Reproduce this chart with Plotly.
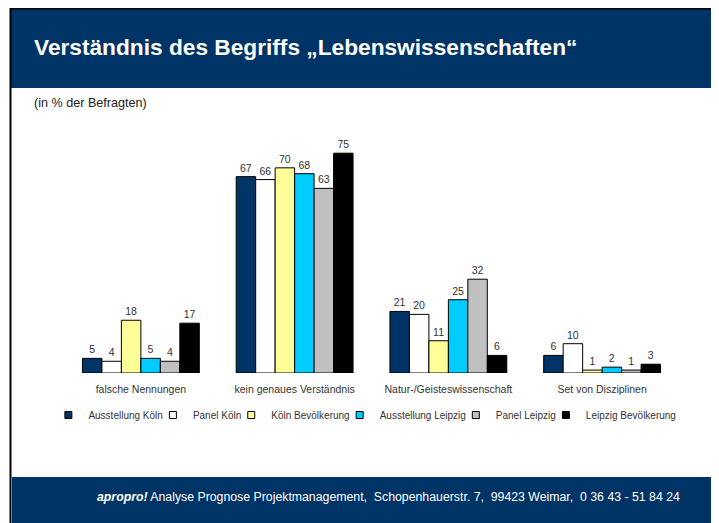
import plotly.graph_objects as go

# data
categories = ['falsche Nennungen', 'kein genaues Verständnis',
              'Natur-/Geisteswissenschaft', 'Set von Disziplinen']
series = ['Ausstellung Köln', 'Panel Köln', 'Köln Bevölkerung',
          'Ausstellung Leipzig', 'Panel Leipzig', 'Leipzig Bevölkerung']
ausstellung_koeln = [5, 67, 21, 6]
panel_koeln = [4, 66, 20, 10]
koeln_bevoelkerung = [18, 70, 11, 1]
ausstellung_leipzig = [5, 68, 25, 2]
panel_leipzig = [4, 63, 32, 1]
leipzig_bevoelkerung = [17, 75, 6, 3]
values = [ausstellung_koeln, panel_koeln, koeln_bevoelkerung,
          ausstellung_leipzig, panel_leipzig, leipzig_bevoelkerung]

# style
colors = ['#003366', '#FFFFFF', '#FFFF99', '#00CCFF', '#C0C0C0', '#000000']
navy = '#003366'
# the page body has an 8px margin, so the figure is 8px smaller than the window
W, H = 711, 515
L, R, T, B = 56, 40, 132, 150
PW, PH = W - L - R, H - T - B


# helpers: window pixel -> paper coords
def px_x(x):
    return (x - 8 - L) / PW


def px_y(y):
    return (H - B - (y - 8)) / PH


fig = go.Figure()

for name, vals, col in zip(series, values, colors):
    fig.add_trace(go.Bar(
        x=categories, y=vals, name=name, legendgroup=name, showlegend=False,
        marker=dict(color=col, line=dict(color='black', width=1)),
        text=vals, textposition='outside', cliponaxis=False,
        textfont=dict(size=10.5, color='#333333'),
        hoverinfo='x+y+name'))
    # legend entry with a small square symbol
    fig.add_trace(go.Scatter(
        x=[None], y=[None], mode='markers', name=name, legendgroup=name,
        marker=dict(symbol='square', size=7, color=col,
                    line=dict(color='black', width=1))))

shapes = [
    # header band
    dict(type='rect', xref='paper', yref='paper', layer='below',
         x0=px_x(11), x1=px_x(730), y0=px_y(88), y1=px_y(9),
         fillcolor=navy, line_width=0),
    # footer band
    dict(type='rect', xref='paper', yref='paper', layer='below',
         x0=px_x(12), x1=px_x(730), y0=px_y(540), y1=px_y(477),
         fillcolor=navy, line_width=0),
    # black frame (left + top)
    dict(type='line', xref='paper', yref='paper',
         x0=px_x(10.5), x1=px_x(10.5), y0=px_y(540), y1=px_y(8),
         line=dict(color='black', width=2)),
    dict(type='line', xref='paper', yref='paper',
         x0=px_x(10), x1=px_x(730), y0=px_y(8.8), y1=px_y(8.8),
         line=dict(color='black', width=1.5)),
]

annotations = [
    dict(text='<b>Verständnis des Begriffs „Lebenswissenschaften“</b>',
         xref='paper', yref='paper', x=px_x(32), y=px_y(47),
         xanchor='left', yanchor='middle', showarrow=False,
         font=dict(size=22.7, color='white')),
    dict(text='(in % der Befragten)',
         xref='paper', yref='paper', x=px_x(32), y=px_y(103),
         xanchor='left', yanchor='middle', showarrow=False,
         font=dict(size=12.6, color='#222222')),
    dict(text='<b><i>apropro!</i></b> Analyse Prognose Projektmanagement,\u00a0 '
              'Schopenhauerstr. 7,\u00a0 99423 Weimar,\u00a0 0 36 43 - 51 84 24',
         xref='paper', yref='paper', x=px_x(95), y=px_y(497),
         xanchor='left', yanchor='middle', showarrow=False,
         font=dict(size=12.3, color='white')),
]

fig.update_layout(
    width=W, height=H,
    margin=dict(l=L, r=R, t=T, b=B, autoexpand=False),
    paper_bgcolor='white', plot_bgcolor='white',
    font=dict(family='Liberation Sans, Arial, sans-serif', size=10.5, color='#333333'),
    barmode='group', bargap=0.24, bargroupgap=0,
    showlegend=True,
    legend=dict(orientation='h', x=-0.001, xanchor='left', y=px_y(415), yanchor='middle',
                font=dict(size=10, color='#333333'), itemwidth=30, indentation=-15,
                bgcolor='rgba(0,0,0,0)', traceorder='normal'),
    shapes=shapes, annotations=annotations,
)
fig.update_xaxes(showline=False, showgrid=False, zeroline=False, ticks='',
                 ticklabelstandoff=8, tickfont=dict(size=10.5, color='#333333'))
fig.update_yaxes(range=[0, 79.5], visible=False, showgrid=False, zeroline=False)

fig.write_html('out.html')
